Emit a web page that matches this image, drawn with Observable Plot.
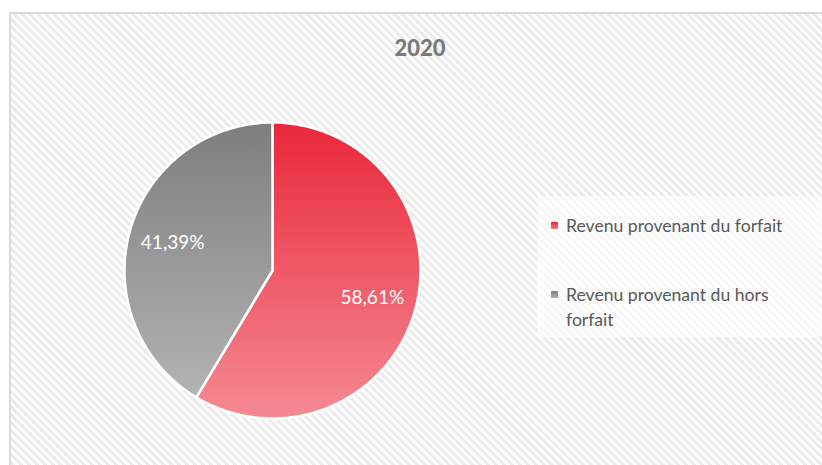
<!DOCTYPE html>
<html>
<head>
<meta charset="utf-8">
<script src="https://cdn.jsdelivr.net/npm/d3@7"></script>
<script src="https://cdn.jsdelivr.net/npm/@observablehq/plot@0.6"></script>
<style>
  html, body { margin: 0; padding: 0; background: #fff; }
  #wrap { position: relative; width: 822px; height: 465px; overflow: hidden; font-family: Lato, "Open Sans", sans-serif; }
  #frame { position: absolute; left: 9px; top: 12px; width: 840px; height: 480px; box-sizing: border-box;
    border-left: 2px solid #dadada; border-top: 2px solid #dadada;
    background: repeating-linear-gradient(45deg, #ffffff 0px, #ffffff 2.6px, #ececec 2.6px, #ececec 5.6px); }
  #chart { position: absolute; left: 0; top: 0; }
  #title { position: absolute; left: 0; width: 840px; top: 34px; text-align: center; font-weight: 900; font-size: 22px; color: #7a7a7a; }
  #legend { position: absolute; left: 537px; top: 196px; width: 290px; height: 141px; background: rgba(255,255,255,0.6); }
  .item { position: absolute; left: 29px; font-size: 17.6px; line-height: 25px; color: #595959; }
  .sw { position: absolute; left: -15px; top: 9px; width: 7px; height: 7px; }
</style>
</head>
<body>
<div id="wrap">
  <div id="frame"></div>
  <div id="chart"></div>
  <div id="title"></div>
  <div id="legend"></div>
</div>
<script>
const title = "2020";
const categories = ["Revenu provenant du forfait", "Revenu provenant du hors forfait"];
const values = [58.61, 41.39];
const labels = ["58,61%", "41,39%"];
const gradients = [["#e9283a", "#f58a93"], ["#7e7e7e", "#b3b3b3"]];
const swatchColors = [["#e9283a", "#f27a84"], ["#7e7e7e", "#acacac"]];

document.getElementById("title").textContent = title;

const pie = d3.pie().sort(null).value(d => d.value);
const arcs = pie(categories.map((c, i) => ({category: c, value: values[i], label: labels[i], i})));

// polygon outline of each slice in unit coordinates (angle clockwise from top)
const outline = [];
arcs.forEach(a => {
  const n = Math.max(2, Math.ceil((a.endAngle - a.startAngle) / 0.01));
  outline.push({i: a.data.i, x: 0, y: 0});
  for (let k = 0; k <= n; k++) {
    const t = a.startAngle + (a.endAngle - a.startAngle) * k / n;
    outline.push({i: a.data.i, x: Math.sin(t), y: Math.cos(t)});
  }
  outline.push({i: a.data.i, x: 0, y: 0});
});
const labelPts = arcs.map(a => {
  const m = (a.startAngle + a.endAngle) / 2;
  return {label: a.data.label, x: 0.7 * Math.sin(m), y: 0.7 * Math.cos(m)};
});

const chart = Plot.plot({
  width: 822,
  height: 465,
  margin: 0,
  style: {background: "transparent", overflow: "visible"},
  x: {domain: [-1, 1], range: [124, 420], axis: null},
  y: {domain: [-1, 1], range: [418, 122], axis: null},
  marks: [
    ...arcs.map(a => Plot.line(outline.filter(d => d.i === a.data.i), {
      x: "x", y: "y", fill: `url(#grad${a.data.i})`, stroke: "white", strokeWidth: 2.5, strokeLinejoin: "round"
    })),
    Plot.text(labelPts, {x: "x", y: "y", text: "label", fill: "white", fontSize: 19, fontFamily: "Lato, 'Open Sans', sans-serif"})
  ]
});

const svg = d3.select(chart);
const defs = svg.insert("defs", ":first-child");
gradients.forEach((g, i) => {
  const lg = defs.append("linearGradient").attr("id", "grad" + i).attr("x1", 0).attr("y1", 0).attr("x2", 0).attr("y2", 1);
  lg.append("stop").attr("offset", "0%").attr("stop-color", g[0]);
  lg.append("stop").attr("offset", "100%").attr("stop-color", g[1]);
});
document.getElementById("chart").appendChild(chart);

const legend = document.getElementById("legend");
const tops = [17, 86];
const texts = [categories[0], "Revenu provenant du hors<br>forfait"];
categories.forEach((c, i) => {
  const it = document.createElement("div");
  it.className = "item";
  it.style.top = tops[i] + "px";
  it.innerHTML = `<span class="sw" style="background:linear-gradient(${swatchColors[i][0]},${swatchColors[i][1]})"></span>${texts[i]}`;
  legend.appendChild(it);
});
</script>
</body>
</html>
